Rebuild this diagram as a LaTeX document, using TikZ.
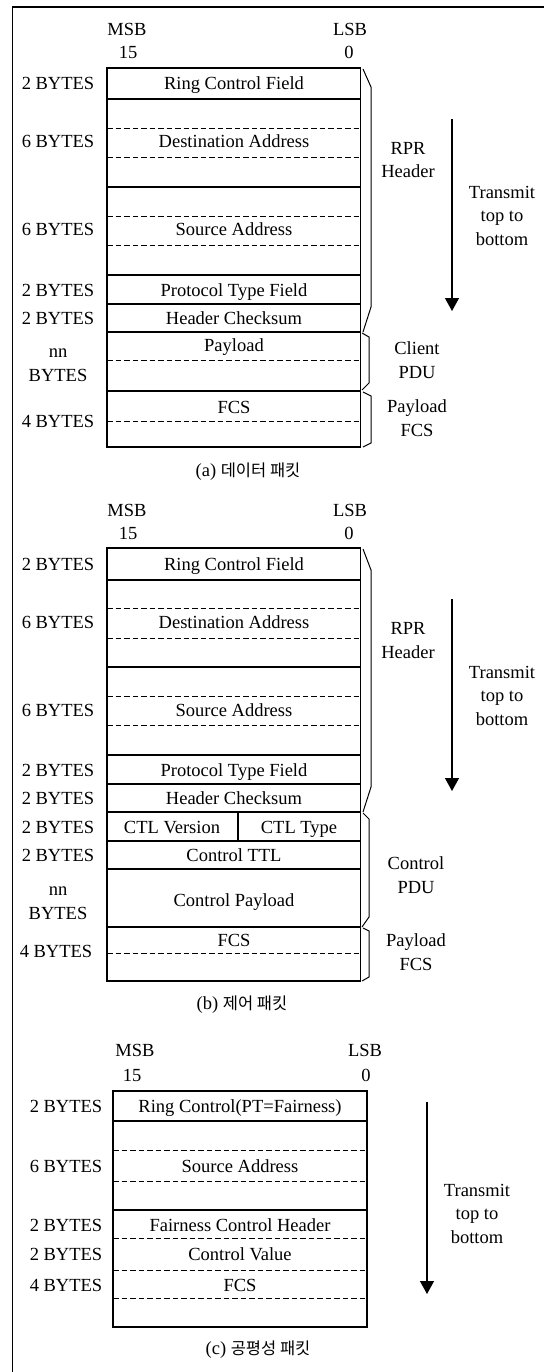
\documentclass[tikz,border=0pt]{standalone}
\usepackage{fontspec}
\setmainfont{Liberation Serif}
\newfontfamily\krfont{Noto Sans CJK KR}
\usetikzlibrary{arrows.meta}
\tikzset{
  lbl/.style={font=\fontsize{18.5}{23.5}\selectfont, inner sep=0pt, text height=14pt, text depth=2pt, align=center},
  captxt/.style={lbl},
  frameline/.style={line width=1.1pt},
  boxline/.style={line width=1.2pt},
  sepline/.style={line width=1.2pt},
  dshline/.style={line width=0.9pt, dash pattern=on 5.5pt off 3pt},
  brcline/.style={line width=1pt},
  txarrow/.style={-{Triangle[length=13pt,width=14pt]}, line width=1.3pt},
}
\newcommand{\kr}[1]{{\krfont\fontsize{16.5}{20}\selectfont #1}}
\begin{document}
\begin{tikzpicture}[x=1pt,y=-1pt]
\useasboundingbox (0,0) rectangle (544,1372);
\draw[frameline] (12.5,1372) -- (12.5,7) -- (544,7);

%% ---------------- Panel (a) ----------------
\node[lbl] (aMSB) at (127,30) {MSB};
\node[lbl] (aLSB) at (350,30) {LSB};
\node[lbl] (a15) at (128,53) {15};
\node[lbl] (a0) at (349,53) {0};
\draw[boxline] (107,68) rectangle (360.5,447);
\foreach \y in {99,187,275,304,332,391} \draw[sepline] (107,\y) -- (360.5,\y);
\foreach \y in {128,157,216,245,360,421} \draw[dshline] (107,\y) -- (360.5,\y);
\node[lbl] (aL1) at (58,84) {2 BYTES};
\node[lbl] (aL2) at (58,142) {6 BYTES};
\node[lbl] (aL3) at (58,230) {6 BYTES};
\node[lbl] (aL4) at (58,290) {2 BYTES};
\node[lbl] (aL5) at (58,318) {2 BYTES};
\node[lbl] (aL6) at (58,375) {nn\\BYTES};
\node[lbl] (aL7) at (58,421) {4 BYTES};
\node[lbl] (aF1) at (234,84) {Ring Control Field};
\node[lbl] (aF2) at (234,142) {Destination Address};
\node[lbl] (aF3) at (234,230) {Source Address};
\node[lbl] (aF4) at (234,290) {Protocol Type Field};
\node[lbl] (aF5) at (234,318) {Header Checksum};
\node[lbl] (aF6) at (234,345) {Payload};
\node[lbl] (aF7) at (234,407) {FCS};
\draw[brcline] (363,69) -- (371,87) -- (371,307) -- (363,332);
\draw[brcline] (362,333) -- (369,337) -- (369,383) -- (362,390);
\draw[brcline] (363,392) -- (371,396) -- (371,443) -- (363,447);
\node[lbl] (aRPR) at (408,172) {RPR\\Header};
\node[lbl] (aCli) at (417,372) {Client\\PDU};
\node[lbl] (aPF) at (417,430) {Payload\\FCS};
\coordinate (aArT) at (452,119);
\coordinate (aArB) at (452,311);
\draw[txarrow] (aArT) -- (aArB);
\node[lbl] (aTx) at (502,239) {Transmit\\top to\\bottom};
\node[captxt] (aCap) at (248,470) {(a) \kr{데이터 패킷}};

%% ---------------- Panel (b) ----------------
\node[lbl] (bMSB) at (127,510) {MSB};
\node[lbl] (bLSB) at (350,510) {LSB};
\node[lbl] (b15) at (128,533) {15};
\node[lbl] (b0) at (349,533) {0};
\draw[boxline] (107,548) rectangle (360.5,981);
\foreach \y in {580,667,755,784,812,841,869,927} \draw[sepline] (107,\y) -- (360.5,\y);
\foreach \y in {608,638,696,725,953} \draw[dshline] (107,\y) -- (360.5,\y);
\draw[sepline] (238,812) -- (238,841);
\node[lbl] (bL1) at (58,564) {2 BYTES};
\node[lbl] (bL2) at (58,622) {6 BYTES};
\node[lbl] (bL3) at (58,710) {6 BYTES};
\node[lbl] (bL4) at (58,770) {2 BYTES};
\node[lbl] (bL5) at (58,798) {2 BYTES};
\node[lbl] (bL6) at (58,827) {2 BYTES};
\node[lbl] (bL7) at (58,855) {2 BYTES};
\node[lbl] (bL8) at (58,913) {nn\\BYTES};
\node[lbl] (bL9) at (56,951) {4 BYTES};
\node[lbl] (bF1) at (234,564) {Ring Control Field};
\node[lbl] (bF2) at (234,622) {Destination Address};
\node[lbl] (bF3) at (234,710) {Source Address};
\node[lbl] (bF4) at (234,770) {Protocol Type Field};
\node[lbl] (bF5) at (234,798) {Header Checksum};
\node[lbl] (bF6a) at (172,827) {CTL Version};
\node[lbl] (bF6b) at (299,827) {CTL Type};
\node[lbl] (bF7) at (234,855) {Control TTL};
\node[lbl] (bF8) at (234,900) {Control Payload};
\node[lbl] (bF9) at (234,940) {FCS};
\draw[brcline] (363,549) -- (371,570) -- (371,787) -- (363,812);
\draw[brcline] (363,813) -- (369,819) -- (369,917) -- (362,927);
\draw[brcline] (363,928) -- (369,931) -- (369,977) -- (362,981);
\node[lbl] (bRPR) at (408,652) {RPR\\Header};
\node[lbl] (bCtl) at (416,887) {Control\\PDU};
\node[lbl] (bPF) at (416,964) {Payload\\FCS};
\coordinate (bArT) at (452,599);
\coordinate (bArB) at (452,791);
\draw[txarrow] (bArT) -- (bArB);
\node[lbl] (bTx) at (502,719) {Transmit\\top to\\bottom};
\node[captxt] (bCap) at (242,1003) {(b) \kr{제어 패킷}};

%% ---------------- Panel (c) ----------------
\node[lbl] (cMSB) at (135,1050) {MSB};
\node[lbl] (cLSB) at (365,1050) {LSB};
\node[lbl] (c15) at (132,1075) {15};
\node[lbl] (c0) at (366,1075) {0};
\draw[boxline] (113,1091) rectangle (367,1327);
\foreach \y in {1121,1210} \draw[sepline] (113,\y) -- (367,\y);
\foreach \y in {1150,1181,1238,1270,1298} \draw[dshline] (113,\y) -- (367,\y);
\node[lbl] (cL1) at (66,1106) {2 BYTES};
\node[lbl] (cL2) at (66,1166) {6 BYTES};
\node[lbl] (cL3) at (66,1225) {2 BYTES};
\node[lbl] (cL4) at (66,1254) {2 BYTES};
\node[lbl] (cL5) at (66,1285) {4 BYTES};
\node[lbl] (cF1) at (240,1106) {Ring Control(PT=Fairness)};
\node[lbl] (cF2) at (240,1166) {Source Address};
\node[lbl] (cF3) at (240,1225) {Fairness Control Header};
\node[lbl] (cF4) at (240,1254) {Control Value};
\node[lbl] (cF5) at (240,1285) {FCS};
\coordinate (cArT) at (427,1102);
\coordinate (cArB) at (427,1294);
\draw[txarrow] (cArT) -- (cArB);
\node[lbl] (cTx) at (477,1237) {Transmit\\top to\\bottom};
\node[captxt] (cCap) at (258,1348) {(c) \kr{공평성 패킷}};
\end{tikzpicture}
\end{document}
